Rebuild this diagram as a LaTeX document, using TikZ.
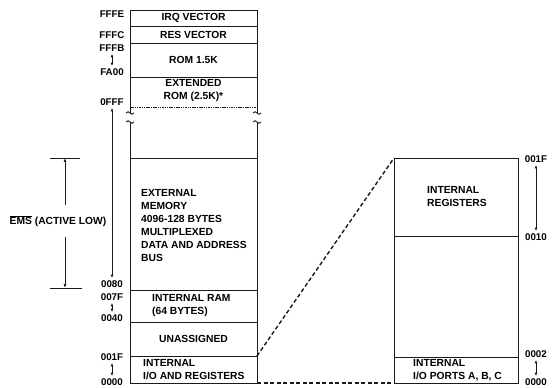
\documentclass[tikz,border=0pt]{standalone}
\usepackage{fontspec}
\setmainfont{Liberation Sans}
\usepackage{tikz}
\usetikzlibrary{arrows.meta,positioning}
\definecolor{ink}{HTML}{1A1A1A}
% little wavy end mark of a cut box side
\newcommand{\memgap}[2]{\draw[ink,line width=0.9pt] (#1-4,#2) .. controls (#1-1,#2-4.5) and (#1+1,#2+4.5) .. (#1+4,#2);}

\begin{document}
\begin{tikzpicture}[
    x=1pt,y=-1pt,
    font=\fontsize{10.3}{13}\selectfont\bfseries,
    region/.style={draw=ink,line width=0.8pt,inner sep=0pt,outer sep=0pt,minimum width=127pt},
    rregion/.style={region,minimum width=124pt},
    txt/.style={inner sep=0pt,align=left,anchor=west},
    addr/.style={inner sep=1pt,font=\fontsize{9.8}{10}\selectfont\bfseries},
    arr/.style={{Latex[length=3.8pt,width=2.8pt]}-{Latex[length=3.8pt,width=2.8pt]},line width=0.9pt,draw=ink,shorten <=1pt,shorten >=1pt},
    uparr/.style={-{Latex[length=3.8pt,width=2.8pt]},line width=0.9pt,draw=ink},
    link/.style={line width=1.4pt,draw=ink,dash pattern=on 4pt off 2.5pt}
]
\useasboundingbox (0,0) rectangle (558,388);

% left map, top part
\node[region,minimum height=16pt] (irq) at (193.5,18) {IRQ VECTOR};
\node[region,minimum height=17pt] (res) at (193.5,34.5) {RES VECTOR};
\node[region,minimum height=34pt] (rom) at (193.5,60) {ROM 1.5K};
\node[inner sep=0pt,align=center] (xrom) at (193.5,91) {EXTENDED\\ROM (2.5K)*};
\draw[ink,line width=0.8pt] (rom.south west) -- ++(0,36);
\draw[ink,line width=0.8pt] (rom.south east) -- ++(0,36);
\draw[ink,line width=0.6pt,dash pattern=on 1.5pt off 0.8pt] (130,107) -- (257,107);
\memgap{130}{113}
\memgap{257}{113}
\memgap{130}{122}
\memgap{257}{122}

% left map, lower part
\node[region,minimum height=132pt] (xmem) at (193.5,224) {};
\draw[ink,line width=0.8pt] (xmem.north west) -- (130,122);
\draw[ink,line width=0.8pt] (xmem.north east) -- (257,122);
\node[txt] (xmemtxt) at (141,226) {EXTERNAL\\MEMORY\\4096-128 BYTES\\MULTIPLEXED\\DATA AND ADDRESS\\BUS};
\node[region,minimum height=32pt] (ram) at (193.5,306) {};
\node[txt] (ramtxt) at (152,306) {INTERNAL RAM\\(64 BYTES)};
\node[region,minimum height=34pt] (unas) at (193.5,339) {UNASSIGNED};
\node[region,minimum height=27pt] (io) at (193.5,369.5) {};
\node[txt] (iotxt) at (143,370) {INTERNAL\\I/O AND REGISTERS};

% right map
\node[rregion,minimum height=78pt] (regs) at (456,197) {};
\node[txt] (regstxt) at (427,197) {INTERNAL\\REGISTERS};
\node[rregion,minimum height=121pt] (rgap) at (456,296.5) {};
\node[rregion,minimum height=26pt] (ports) at (456,370) {};
\node[txt] (portstxt) at (413,370) {INTERNAL\\I/O PORTS A, B, C};

\draw[link] (io.north east) -- (regs.north west);
\draw[link] (io.south east) -- (ports.south west);

% addresses, left
\node[addr] (fffe) at (112,14) {FFFE};
\node[addr] (fffc) at (112,35) {FFFC};
\node[addr] (fffb) at (112,48) {FFFB};
\node[addr] (fa00) at (112,72) {FA00};
\node[addr] (offf) at (112,102) {0FFF};
\node[addr] (a0080) at (112,284) {0080};
\node[addr] (a007f) at (112,297) {007F};
\node[addr] (a0040) at (112,318) {0040};
\node[addr] (a001f) at (112,357) {001F};
\node[addr] (a0000) at (112,382) {0000};
\draw[arr] (fffb) -- (fa00);
\draw[arr] (offf.south) -- (a0080.north);
\draw[arr] (a007f) -- (a0040);
\draw[arr] (a001f) -- (a0000);

% addresses, right
\node[addr] (r001f) at (536,159) {001F};
\node[addr] (r0010) at (536,237) {0010};
\node[addr] (r0002) at (536,354) {0002};
\node[addr] (r0000) at (536,382) {0000};
\draw[arr] (r001f) -- (r0010);
\draw[arr] (r0002) -- (r0000);

% EMS span
\draw[ink,line width=0.6pt] (50,158) -- (80,158);
\draw[ink,line width=0.6pt] (50,288) -- (82,288);
\coordinate (emstop) at (65,158);
\coordinate (emsbot) at (65,288);
\node[inner sep=2pt] (ems) at (58,221) {$\overline{\hbox{EMS}}$ (ACTIVE LOW)};
\draw[uparr] ([yshift=8pt]ems.north -| emstop) -- (emstop);
\draw[uparr] ([yshift=-8pt]ems.south -| emsbot) -- (emsbot);
\end{tikzpicture}
\end{document}
